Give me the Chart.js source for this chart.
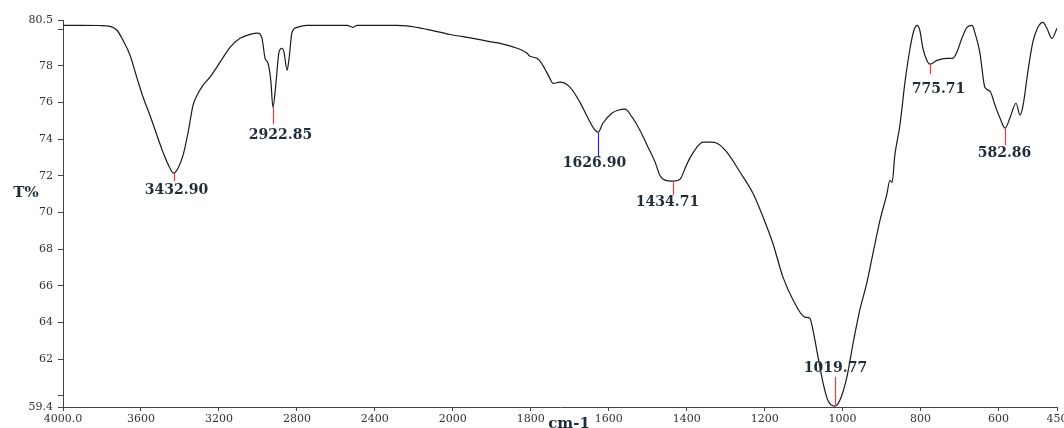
<!DOCTYPE html>
<html>
<head>
<meta charset="utf-8">
<script src="https://cdn.jsdelivr.net/npm/chart.js@4/dist/chart.umd.min.js"></script>
<style>
  html, body { margin: 0; padding: 0; background: #fff; }
  #wrap { width: 1064px; height: 428px; position: relative; }
</style>
</head>
<body>
<div id="wrap"><canvas id="ftir"></canvas></div>
<script>
// spectrum: wavenumber (cm-1) and transmittance (%)
const wavenumbers = [
  4000, 3913, 3810, 3759, 3723, 3692, 3656, 3620, 3589, 3554, 3518, 3487, 3451, 3433,
  3410, 3384, 3358, 3333, 3312, 3282, 3246, 3194, 3143, 3092, 3040, 2999, 2979, 2963,
  2948, 2933, 2923, 2907, 2892, 2876, 2866, 2850, 2840, 2825, 2799, 2748, 2681, 2543,
  2512, 2491, 2373, 2286, 2235, 2132, 2014, 1948, 1897, 1879, 1835, 1810, 1802, 1784,
  1769, 1751, 1743, 1725, 1699, 1674, 1653, 1635, 1627, 1615, 1592, 1576, 1558, 1540,
  1520, 1499, 1481, 1469, 1456, 1435, 1417, 1404, 1392, 1374, 1358, 1340, 1322, 1297,
  1263, 1230, 1204, 1179, 1153, 1127, 1097, 1084, 1076, 1063, 1050, 1038, 1020, 1007,
  989, 973, 956, 938, 922, 904, 886, 879, 873, 866, 853, 840, 827, 817, 809, 802,
  794, 784, 776, 758, 732, 717, 707, 694, 681, 668, 661, 648, 635, 622, 609, 596,
  583, 571, 555, 545, 537, 525, 512, 499, 486, 476, 463, 450
];
const transmittance = [
  80.21, 80.21, 80.20, 80.15, 79.94, 79.39, 78.58, 77.32, 76.29, 75.31, 74.22, 73.29, 72.42, 72.15,
  72.42, 73.13, 74.38, 75.85, 76.40, 76.94, 77.38, 78.20, 79.01, 79.50, 79.72, 79.78, 79.50, 78.41,
  78.14, 77.11, 75.74, 77.11, 78.74, 78.96, 78.74, 77.76, 78.41, 79.83, 80.10, 80.21, 80.21, 80.21,
  80.10, 80.21, 80.21, 80.21, 80.18, 79.99, 79.71, 79.50, 79.29, 79.23, 78.96, 78.70, 78.52, 78.41,
  78.03, 77.32, 77.05, 77.11, 76.83, 76.02, 75.14, 74.49, 74.38, 74.87, 75.42, 75.58, 75.64, 75.20,
  74.49, 73.56, 72.75, 72.04, 71.77, 71.71, 71.82, 72.42, 72.97, 73.56, 73.84, 73.84, 73.78, 73.29,
  72.20, 71.05, 69.75, 68.33, 66.48, 65.23, 64.30, 64.24, 63.59, 62.12, 60.70, 59.77, 59.45, 59.77,
  61.03, 62.89, 64.68, 66.15, 67.79, 69.59, 71.05, 71.75, 71.65, 73.13, 74.76, 77.11, 78.96, 79.94, 80.21, 79.94,
  78.96, 78.30, 78.09, 78.30, 78.41, 78.41, 78.74, 79.50, 80.10, 80.21, 79.83, 78.74, 76.83, 76.62, 75.85, 75.14,
  74.60, 75.14, 75.96, 75.31, 75.85, 77.65, 79.29, 80.10, 80.37, 80.05, 79.50, 80.05
];

// labelled peaks
const peakLabels = ['3432.90', '2922.85', '1626.90', '1434.71', '1019.77', '775.71', '582.86'];
const peakWn = [3432.90, 2922.85, 1626.90, 1434.71, 1019.77, 775.71, 582.86];
const peakT = [72.15, 75.74, 74.38, 71.66, 59.42, 78.09, 74.60];

// ticks
const xTickValues = [4000, 3600, 3200, 2800, 2400, 2000, 1800, 1600, 1400, 1200, 1000, 800, 600, 450];
const xTickLabels = ['4000.0', '3600', '3200', '2800', '2400', '2000', '1800', '1600', '1400', '1200', '1000', '800', '600', '450'];
const yTickValues = [59.4, 60, 62, 64, 66, 68, 70, 72, 74, 76, 78, 80, 80.5];
const yTickLabels = ['59.4', '', '62', '64', '66', '68', '70', '72', '74', '76', '78', '', '80.5'];

const BREAK = 2000; // scale is expanded x2 below this wavenumber

// wavenumber axis with the usual 2x expansion below 2000 cm-1
class FtirScale extends Chart.LinearScale {
  units(v) {
    return v >= BREAK ? (this.max - v) / 2 : (this.max - BREAK) / 2 + (BREAK - v);
  }
  getPixelForValue(v) {
    return this.getPixelForDecimal(this.units(v) / this.units(this.min));
  }
  getValueForPixel(p) {
    const u = this.getDecimalForPixel(p) * this.units(this.min);
    const ub = (this.max - BREAK) / 2;
    return u <= ub ? this.max - u * 2 : BREAK - (u - ub);
  }
}
FtirScale.id = 'ftir';
FtirScale.defaults = Chart.LinearScale.defaults;
Chart.register(FtirScale);

// marker line length and label offset (px) for each peak, in the order of peakLabels
const markLen = [8, 17, 25, 13, -30, 10, 17];
const labelDy = [17, 28, 31, 20, -38, 25, 25];
const labelDx = [2, 7, -4, -6, 0, 8, -1];
const markColor = ['#ee3b3b', '#ee3b3b', '#2626e6', '#ee3b3b', '#ee3b3b', '#ee3b3b', '#ee3b3b'];

const peakPlugin = {
  id: 'peaks',
  afterDatasetsDraw(chart) {
    const ctx = chart.ctx;
    const xs = chart.scales.x, ys = chart.scales.y;
    ctx.save();
    peakWn.forEach((wn, i) => {
      const px = Math.round(xs.getPixelForValue(wn)) + 0.5;
      const py = ys.getPixelForValue(peakT[i]);
      ctx.strokeStyle = markColor[i];
      ctx.lineWidth = 1.2;
      ctx.beginPath();
      ctx.moveTo(px, py);
      ctx.lineTo(px, py + markLen[i]);
      ctx.stroke();
      ctx.fillStyle = '#1f2c3a';
      ctx.font = 'bold 14px "DejaVu Serif"';
      ctx.textAlign = 'center';
      ctx.textBaseline = 'middle';
      ctx.fillText(peakLabels[i], px + labelDx[i], py + labelDy[i]);
    });
    // axis titles
    ctx.fillStyle = '#1f2c3a';
    ctx.font = 'bold 15px "DejaVu Serif"';
    ctx.textAlign = 'center';
    ctx.textBaseline = 'middle';
    ctx.fillText('T%', 26, 193);
    ctx.textBaseline = 'alphabetic';
    ctx.fillText('cm-1', 569, 428);
    ctx.restore();
  }
};

const axisColor = '#444';
const tickFont = { family: '"DejaVu Serif"', size: 11 };

const ctx = document.getElementById('ftir').getContext('2d');
const spectrum = new Chart(ctx, {
  type: 'line',
  data: {
    datasets: [{
      data: wavenumbers.map((w, i) => ({ x: w, y: transmittance[i] })),
      borderColor: '#1a1a1a',
      borderWidth: 1.2,
      pointRadius: 0,
      cubicInterpolationMode: 'monotone',
      fill: false
    }]
  },
  options: {
    responsive: true,
    maintainAspectRatio: false,
    animation: false,
    layout: { padding: { left: 0, right: 7, top: 20, bottom: 0 } },
    plugins: {
      legend: { display: false },
      tooltip: { enabled: false }
    },
    scales: {
      x: {
        type: 'ftir',
        min: 450,
        max: 4000,
        afterBuildTicks: (s) => { s.ticks = xTickValues.map(v => ({ value: v })); },
        afterFit: (s) => { s.height = 21; s.paddingLeft = 0; s.paddingRight = 0; },
        ticks: {
          autoSkip: false,
          maxRotation: 0,
          padding: 2,
          color: '#333',
          font: tickFont,
          callback: (v, i) => xTickLabels[i]
        },
        grid: { drawOnChartArea: false, drawTicks: true, tickLength: 4, color: axisColor },
        border: { display: true, color: axisColor, width: 1 }
      },
      y: {
        type: 'linear',
        min: 59.4,
        max: 80.5,
        afterBuildTicks: (s) => { s.ticks = yTickValues.map(v => ({ value: v })); },
        afterFit: (s) => { s.width = 63; s.paddingTop = 0; s.paddingBottom = 0; },
        ticks: {
          autoSkip: false,
          padding: 5,
          color: '#333',
          font: tickFont,
          callback: (v, i) => yTickLabels[i]
        },
        grid: { drawOnChartArea: false, drawTicks: true, tickLength: 5, color: axisColor },
        border: { display: true, color: axisColor, width: 1 }
      }
    }
  },
  plugins: [peakPlugin]
});
</script>
</body>
</html>
